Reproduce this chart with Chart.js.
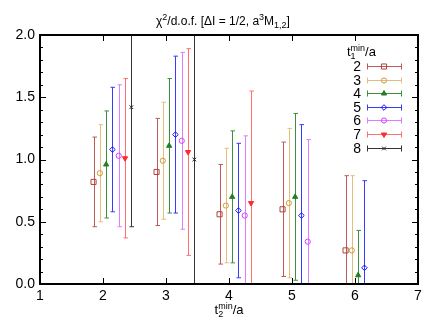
<!DOCTYPE html>
<html>
<head>
<meta charset="utf-8">
<script src="https://cdn.jsdelivr.net/npm/chart.js@4.4.0/dist/chart.umd.min.js"></script>
<style>html,body{margin:0;padding:0;background:#fff}</style>
</head>
<body>
<canvas id="myChart" width="436" height="327"></canvas>
<script>
// x axis categories: t2min/a
var t2min = [2, 3, 4, 5, 6];
// series: t1min/a
var t1min = ['2', '3', '4', '5', '6', '7', '8'];
// chi2/dof per series (one value per t2min, null = no point) and its error
var chi2_2 = [0.82, 0.90, 0.56, 0.60, 0.27];
var err_2  = [0.36, 0.43, 0.40, 0.54, 0.60];
var chi2_3 = [0.89, 0.99, 0.63, 0.65, 0.27];
var err_3  = [0.39, 0.47, 0.46, 0.60, 0.60];
var chi2_4 = [0.96, 1.11, 0.70, 0.70, 0.07];
var err_4  = [0.43, 0.54, 0.53, 0.67, 0.36];
var chi2_5 = [1.08, 1.20, 0.59, 0.55, 0.13];
var err_5  = [0.50, 0.63, 0.54, 0.73, 0.70];
var chi2_6 = [1.03, 1.15, 0.55, 0.34, null];
var err_6  = [0.57, 0.71, 0.64, 0.82, null];
var chi2_7 = [1.01, 1.06, 0.65, null, null];
var err_7  = [0.64, 0.83, 0.90, null, null];
var chi2_8 = [1.42, 1.00, null, null, null];
var err_8  = [0.96, 1.20, null, null, null];

var values = [chi2_2, chi2_3, chi2_4, chi2_5, chi2_6, chi2_7, chi2_8];
var errors = [err_2, err_3, err_4, err_5, err_6, err_7, err_8];

var styles = [
  {c: '#b3403c', bar: '#bd5a56', ps: 'rect', r: 3.6, fill: false, rot: 0},
  {c: '#d19a2e', bar: '#e2c07c', ps: 'circle', r: 2.6, fill: false, rot: 0},
  {c: '#237f23', bar: '#3f8f3f', ps: 'triangle', r: 3, fill: true, rot: 0},
  {c: '#1414ff', bar: '#3a3aff', ps: 'rectRot', r: 2.8, fill: false, rot: 0},
  {c: '#d53cff', bar: '#e07cff', ps: 'circle', r: 2.6, fill: false, rot: 0},
  {c: '#ff2a2a', bar: '#ff7070', ps: 'triangle', r: 3, fill: true, rot: 180},
  {c: '#222222', bar: '#333333', ps: 'crossRot', r: 2.6, fill: false, rot: 0}
];

var FONT = '"Liberation Sans", Arial, sans-serif';
var DODGE = 0.1;

var datasets = t1min.map(function (lab, i) {
  var pts = [];
  t2min.forEach(function (t, j) {
    if (values[i][j] !== null) {
      pts.push({x: t + (i - 1.5) * DODGE, y: values[i][j], e: errors[i][j]});
    }
  });
  var s = styles[i];
  return {
    label: lab,
    data: pts,
    showLine: false,
    borderColor: s.c,
    backgroundColor: s.fill ? s.c : 'rgba(0,0,0,0)',
    pointStyle: s.ps,
    pointRadius: s.r,
    pointRotation: s.rot,
    pointBorderWidth: 1,
    barColor: s.bar
  };
});

function drawRich(ctx, parts, x, y, size, align) {
  var small = Math.round(size * 0.72);
  function w(p) {
    if (p.sub !== undefined || p.sup !== undefined) {
      ctx.font = small + 'px ' + FONT;
      return Math.max(p.sub ? ctx.measureText(p.sub).width : 0, p.sup ? ctx.measureText(p.sup).width : 0);
    }
    ctx.font = size + 'px ' + FONT;
    return ctx.measureText(p.t).width;
  }
  var total = 0;
  parts.forEach(function (p) { total += w(p); });
  var cx = align === 'center' ? x - total / 2 : x;
  ctx.textAlign = 'left';
  ctx.textBaseline = 'alphabetic';
  ctx.fillStyle = '#000';
  parts.forEach(function (p) {
    var pw = w(p);
    if (p.sub !== undefined || p.sup !== undefined) {
      ctx.font = small + 'px ' + FONT;
      if (p.sup) ctx.fillText(p.sup, cx, y - size * 0.42);
      if (p.sub) ctx.fillText(p.sub, cx, y + size * 0.25);
    } else {
      ctx.font = size + 'px ' + FONT;
      ctx.fillText(p.t, cx, y);
    }
    cx += pw;
  });
}

var errorBars = {
  id: 'errorBars',
  beforeDatasetsDraw: function (chart) {
    var ctx = chart.ctx, a = chart.chartArea, ys = chart.scales.y;
    ctx.save();
    ctx.beginPath();
    ctx.rect(a.left, a.top, a.right - a.left, a.bottom - a.top);
    ctx.clip();
    ctx.lineWidth = 1;
    chart.data.datasets.forEach(function (ds, i) {
      var meta = chart.getDatasetMeta(i);
      ctx.strokeStyle = ds.barColor;
      meta.data.forEach(function (el, k) {
        var d = ds.data[k];
        var x = Math.round(el.x) + 0.5;
        var yt = ys.getPixelForValue(d.y + d.e);
        var yb = ys.getPixelForValue(d.y - d.e);
        ctx.beginPath();
        ctx.moveTo(x, yt); ctx.lineTo(x, yb);
        ctx.moveTo(x - 2, yt); ctx.lineTo(x + 2.5, yt);
        ctx.moveTo(x - 2, yb); ctx.lineTo(x + 2.5, yb);
        ctx.stroke();
      });
    });
    ctx.restore();
  }
};

var frame = {
  id: 'frame',
  afterDraw: function (chart) {
    var ctx = chart.ctx, a = chart.chartArea, xs = chart.scales.x, ys = chart.scales.y;
    ctx.save();
    ctx.strokeStyle = '#000';
    ctx.lineWidth = 1;
    ctx.beginPath();
    for (var v = 1; v <= 7; v++) {
      var px = Math.round(xs.getPixelForValue(v)) + 0.5;
      ctx.moveTo(px, a.bottom); ctx.lineTo(px, a.bottom - 6);
      ctx.moveTo(px, a.top); ctx.lineTo(px, a.top + 6);
    }
    for (var n = 0; n <= 20; n++) {
      var py = Math.round(ys.getPixelForValue(n / 10)) + 0.5;
      var len = n % 5 === 0 ? 6 : 3;
      ctx.moveTo(a.left, py); ctx.lineTo(a.left + len, py);
      ctx.moveTo(a.right, py); ctx.lineTo(a.right - len, py);
    }
    ctx.stroke();
    ctx.lineWidth = 2;
    ctx.strokeRect(a.left, a.top, a.right - a.left, a.bottom - a.top);

    // title
    drawRich(ctx, [{t: '\u03c7'}, {sup: '2'}, {t: '/d.o.f. [\u0394I = 1/2, a'}, {sup: '3'}, {t: 'M'}, {sub: '1,2'}, {t: ']'}], 223, 25, 12, 'center');
    // x axis title
    drawRich(ctx, [{t: 't'}, {sub: '2', sup: 'min'}, {t: '/a'}], 229, 314, 13, 'center');

    // legend
    drawRich(ctx, [{t: 't'}, {sub: '1', sup: 'min'}, {t: '/a'}], 347, 56, 13, 'left');
    chart.data.datasets.forEach(function (ds, i) {
      var ry = Math.round(66 + i * 13.6) + 0.5;
      ctx.font = '14px ' + FONT;
      ctx.fillStyle = '#000';
      ctx.textAlign = 'right';
      ctx.textBaseline = 'middle';
      ctx.fillText(ds.label, 361, ry + 1);
      ctx.strokeStyle = ds.barColor;
      ctx.lineWidth = 1;
      ctx.beginPath();
      ctx.moveTo(367, ry); ctx.lineTo(402, ry);
      ctx.moveTo(367.5, ry - 3); ctx.lineTo(367.5, ry + 3);
      ctx.moveTo(401.5, ry - 3); ctx.lineTo(401.5, ry + 3);
      ctx.stroke();
      ctx.strokeStyle = ds.borderColor;
      ctx.fillStyle = ds.backgroundColor;
      ctx.lineWidth = 1;
      Chart.helpers.drawPoint(ctx, {pointStyle: ds.pointStyle, radius: ds.pointRadius, rotation: ds.pointRotation, borderWidth: 1}, 384, ry);
    });
    ctx.restore();
  }
};

var ctxx = document.getElementById('myChart');
var myChartt = new Chart(ctxx, {
  type: 'scatter',
  data: {datasets: datasets},
  options: {
    responsive: false,
    animation: false,
    layout: {padding: {top: 35, right: 18, left: 0, bottom: 0}},
    plugins: {legend: {display: false}, tooltip: {enabled: false}},
    scales: {
      x: {
        type: 'linear', min: 1, max: 7,
        grid: {display: false, drawTicks: false},
        border: {display: false},
        ticks: {stepSize: 1, color: '#000', padding: 4, font: {family: FONT, size: 14}},
        afterFit: function (s) { s.height = 43; s.paddingLeft = 0; s.paddingRight = 0; }
      },
      y: {
        min: 0, max: 2,
        grid: {display: false, drawTicks: false},
        border: {display: false},
        ticks: {stepSize: 0.5, color: '#000', padding: 5, font: {family: FONT, size: 14},
          callback: function (v) { return v.toFixed(1); }},
        afterFit: function (s) { s.width = 40; s.paddingTop = 0; s.paddingBottom = 0; }
      }
    }
  },
  plugins: [errorBars, frame]
});
</script>
</body>
</html>
